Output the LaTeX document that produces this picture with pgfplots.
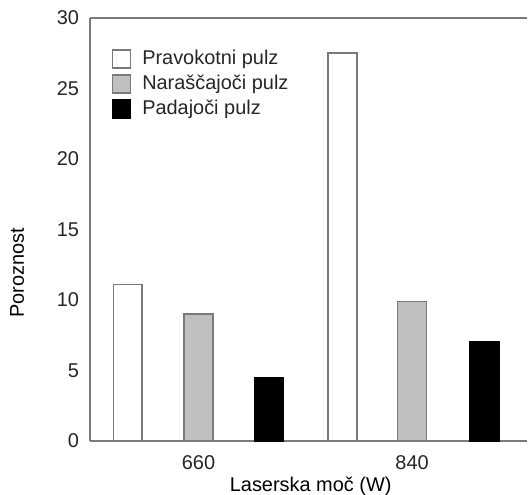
\documentclass[border=0pt]{standalone}
\usepackage{fontspec}
\setmainfont{Liberation Sans}
\usepackage{pgfplots}
\pgfplotsset{compat=1.18}
\definecolor{axgray}{HTML}{7A7A7A}
\definecolor{bargray}{HTML}{C0C0C0}
\begin{document}
\begin{tikzpicture}
\useasboundingbox (-45bp,-27bp) rectangle (219.5bp,220.5bp);
\begin{axis}[
  scale only axis,
  width=218.5bp, height=211.5bp,
  xmin=-0.508, xmax=1.538,
  ymin=0, ymax=30,
  axis x line*=bottom,
  axis y line*=left,
  axis line style={axgray, line width=0.8bp},
  major tick length=0pt,
  xtick={0,1}, xticklabels={660,840},
  ytick={0,5,10,15,20,25,30},
  /pgf/number format/assume math mode=true,
  tick label style={font=\fontsize{10}{12}\selectfont, text=black!85},
  yticklabel style={xshift=-2bp},
  xticklabel style={yshift=-4bp},
  label style={font=\fontsize{10}{12}\selectfont, text=black!85},
  xlabel={Laserska moč (W)},
  ylabel={Poroznost},
  every axis x label/.style={at={(axis description cs:0.505,-0.106)}, anchor=center},
  every axis y label/.style={at={(axis description cs:-0.167,0.397)}, rotate=90, anchor=center},
  ybar, bar shift=0pt, bar width=0.135,
  legend style={at={(axis description cs:0.035,0.943)}, anchor=north west, draw=none, fill=none,
    font=\fontsize{10}{12}\selectfont, text=black!85, row sep=-0.3bp,
    /tikz/every odd column/.append style={column sep=3.5bp}},
  legend cell align=left,
  legend image code/.code={\draw[#1] (0bp,-4.5bp) rectangle (9bp,4.5bp);},
  clip=false,
]
\addplot[draw=axgray, fill=white, line width=0.8bp] coordinates {(-0.331,11.1) (0.675,27.5)};
\addplot[draw=axgray, fill=bargray, line width=0.8bp] coordinates {(0,9.0) (1,9.88)};
\addplot[draw=black, fill=black, line width=0.8bp] coordinates {(0.331,4.5) (1.34,7.0)};
\legend{Pravokotni pulz, Naraščajoči pulz, Padajoči pulz}
\draw[axgray, line width=0.8bp] (rel axis cs:0,1) -- (rel axis cs:1,1);
\end{axis}
\end{tikzpicture}
\end{document}
